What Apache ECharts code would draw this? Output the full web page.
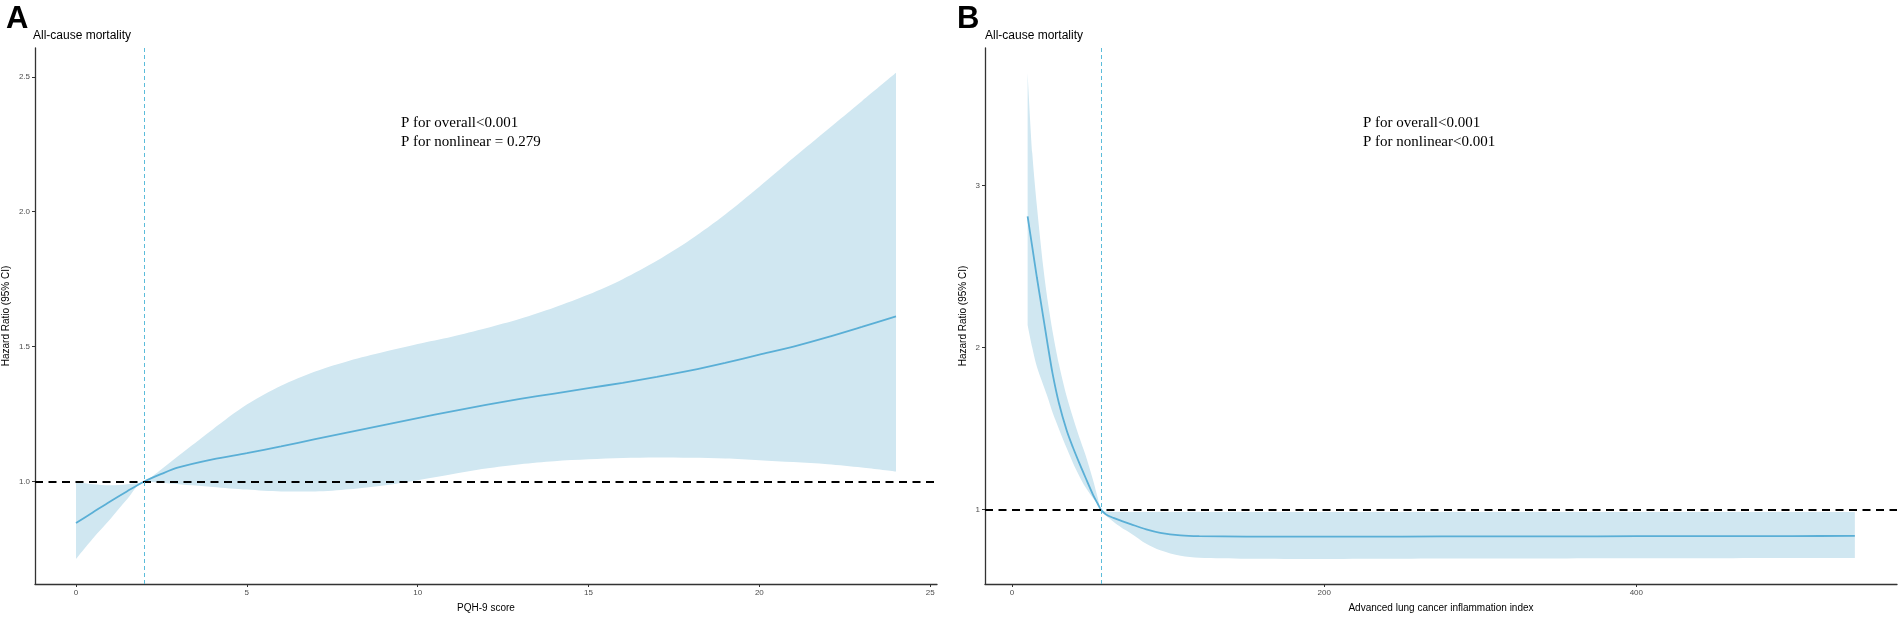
<!DOCTYPE html>
<html>
<head>
<meta charset="utf-8">
<script src="https://cdn.jsdelivr.net/npm/echarts@6/dist/echarts.min.js"></script>
<style>
html,body{margin:0;padding:0;background:#fff;}
#chart{width:1903px;height:618px;}
</style>
</head>
<body>
<div id="chart"></div>
<script>
// ---- Panel A: PQH-9 score ----
const aX     = [0, 0.5, 1, 1.5, 2, 2.5, 3, 4, 5, 6, 7, 8, 9, 10, 11, 12, 13, 14, 15, 16, 17, 18, 19, 20, 21, 22, 23, 24];
const aHR    = [0.846, 0.886, 0.926, 0.964, 1.0, 1.028, 1.052, 1.082, 1.105, 1.13, 1.157, 1.183, 1.209, 1.235, 1.26, 1.284, 1.306, 1.326, 1.346, 1.366, 1.388, 1.412, 1.44, 1.47, 1.50, 1.535, 1.573, 1.612];
const aLower = [0.713, 0.79, 0.86, 0.935, 1.0, 0.995, 0.99, 0.98, 0.97, 0.963, 0.963, 0.971, 0.985, 1.005, 1.027, 1.048, 1.064, 1.075, 1.082, 1.087, 1.089, 1.088, 1.085, 1.079, 1.072, 1.064, 1.052, 1.037];
const aUpper = [0.997, 0.99, 0.986, 0.99, 1.0, 1.045, 1.095, 1.193, 1.285, 1.355, 1.408, 1.448, 1.48, 1.51, 1.537, 1.568, 1.603, 1.645, 1.693, 1.75, 1.818, 1.898, 1.99, 2.093, 2.2, 2.305, 2.41, 2.515];
const aRef = 2;
const aXTicks = [0, 5, 10, 15, 20, 25];
const aYTicks = [1.0, 1.5, 2.0, 2.5];

// ---- Panel B: Advanced lung cancer inflammation index ----
const bX     = [10, 13, 16, 20, 23, 26, 30, 35, 39, 43, 47, 52, 55, 57, 60, 65, 70, 76, 86, 95, 108, 120, 150, 200, 250, 300, 350, 400, 450, 500, 540];
const bHR    = [2.81, 2.62, 2.43, 2.19, 2.01, 1.84, 1.66, 1.49, 1.385, 1.29, 1.20, 1.09, 1.035, 1.0, 0.972, 0.949, 0.931, 0.911, 0.878, 0.857, 0.841, 0.836, 0.834, 0.834, 0.834, 0.835, 0.835, 0.836, 0.836, 0.837, 0.838];
const bLower = [2.14, 2.0, 1.88, 1.77, 1.69, 1.6, 1.5, 1.38, 1.29, 1.21, 1.14, 1.07, 1.03, 1.0, 0.965, 0.925, 0.89, 0.855, 0.79, 0.75, 0.715, 0.703, 0.697, 0.696, 0.697, 0.698, 0.699, 0.70, 0.70, 0.701, 0.702];
const bUpper = [3.70, 3.2, 2.87, 2.5, 2.28, 2.1, 1.9, 1.7, 1.57, 1.45, 1.34, 1.18, 1.07, 1.0, 0.988, 0.986, 0.985, 0.985, 0.985, 0.985, 0.985, 0.985, 0.985, 0.985, 0.985, 0.985, 0.985, 0.985, 0.985, 0.985, 0.985];
const bRef = 57;
const bXTicks = [0, 200, 400];
const bYTicks = [1, 2, 3];

const yTitle = 'Hazard Ratio (95% CI)';
const subTitle = 'All-cause mortality';
const aXTitle = 'PQH-9 score';
const bXTitle = 'Advanced lung cancer inflammation index';
const aNote = ['P for overall<0.001', 'P for nonlinear = 0.279'];
const bNote = ['P for overall<0.001', 'P for nonlinear<0.001'];

const RIBBON = '#D0E7F1';
const LINE = '#5AAFD6';
const VLINE = '#5BBCDA';
const SANS = 'Liberation Sans, Arial, sans-serif';
const SERIF = 'Liberation Serif, Times New Roman, serif';

const pair = (xs, ys) => xs.map((x, i) => [x, ys[i]]);
// band rows put the stacked value (y) in column 0 so ECharts stacks on y
const yFirst = (xs, ys) => xs.map((x, i) => [ys[i], x]);
const diffFirst = (xs, lo, up) => xs.map((x, i) => [+(up[i] - lo[i]).toFixed(4), x]);

function xAxisCfg(gi, min, max, ticks, name) {
  return {
    type: 'value', gridIndex: gi, min: min, max: max,
    name: name, nameLocation: 'middle', nameGap: 19,
    nameTextStyle: {fontFamily: SANS, fontSize: 10, color: '#000'},
    axisLine: {onZero: false, lineStyle: {color: '#333', width: 1.3}},
    axisTick: {show: true, customValues: ticks, length: 3, lineStyle: {color: '#333'}},
    axisLabel: {customValues: ticks, fontFamily: SANS, fontSize: 8, color: '#4D4D4D', margin: 5},
    splitLine: {show: false}
  };
}
function yAxisCfg(gi, min, max, ticks, fmt, gap) {
  return {
    type: 'value', gridIndex: gi, min: min, max: max,
    name: yTitle, nameLocation: 'middle', nameGap: gap,
    nameTextStyle: {fontFamily: SANS, fontSize: 10, color: '#000'},
    axisLine: {show: true, onZero: false, lineStyle: {color: '#333', width: 1.3}},
    axisTick: {show: true, customValues: ticks, length: 3, lineStyle: {color: '#333'}},
    axisLabel: {customValues: ticks, fontFamily: SANS, fontSize: 8, color: '#4D4D4D', margin: 5,
      formatter: fmt},
    splitLine: {show: false}
  };
}
function bandSeries(gi, xs, lo, up, key) {
  return [
    {type: 'line', xAxisIndex: gi, yAxisIndex: gi, stack: key, data: yFirst(xs, lo),
     encode: {x: 1, y: 0},
     symbol: 'none', smooth: 0.3, lineStyle: {opacity: 0}, silent: true, z: 1},
    {type: 'line', xAxisIndex: gi, yAxisIndex: gi, stack: key, data: diffFirst(xs, lo, up),
     encode: {x: 1, y: 0},
     symbol: 'none', smooth: 0.3, lineStyle: {opacity: 0}, areaStyle: {color: RIBBON, opacity: 1}, silent: true, z: 1}
  ];
}
function lineSeries(gi, xs, hr, ref) {
  return {
    type: 'line', xAxisIndex: gi, yAxisIndex: gi, data: pair(xs, hr),
    symbol: 'none', smooth: 0.3, lineStyle: {color: LINE, width: 1.8}, silent: true, z: 3,
    markLine: {
      silent: true, symbol: 'none', label: {show: false}, animation: false,
      data: [
        {yAxis: 1, lineStyle: {color: '#000', width: 2, type: [8, 5.5]}},
        {xAxis: ref, lineStyle: {color: VLINE, width: 1, type: [4, 3]}}
      ]
    }
  };
}

const chart = echarts.init(document.getElementById('chart'), null, {renderer: 'canvas'});
chart.setOption({
  animation: false,
  backgroundColor: '#fff',
  grid: [
    {left: 33, top: 48, width: 904, height: 540},
    {left: 985, top: 48, width: 912, height: 540}
  ],
  xAxis: [
    xAxisCfg(0, -1.2, 25.2, aXTicks, aXTitle),
    xAxisCfg(1, -17.3, 567, bXTicks, bXTitle)
  ],
  yAxis: [
    yAxisCfg(0, 0.62, 2.607, aYTicks, v => v.toFixed(1), 24),
    yAxisCfg(1, 0.541, 3.85, bYTicks, v => String(v), 17)
  ],
  series: [
    ...bandSeries(0, aX, aLower, aUpper, 'a'),
    lineSeries(0, aX, aHR, aRef),
    ...bandSeries(1, bX, bLower, bUpper, 'b'),
    lineSeries(1, bX, bHR, bRef)
  ],
  graphic: [
    {type: 'text', left: 6, top: 4, style: {text: 'A', font: 'bold 31px ' + SANS, fill: '#000'}},
    {type: 'text', left: 957, top: 4, style: {text: 'B', font: 'bold 31px ' + SANS, fill: '#000'}},
    {type: 'text', left: 33, top: 30, style: {text: subTitle, font: '12px ' + SANS, fill: '#000'}},
    {type: 'text', left: 985, top: 30, style: {text: subTitle, font: '12px ' + SANS, fill: '#000'}},
    {type: 'text', left: 401, top: 114, style: {text: aNote.join('\n'), font: '15px ' + SERIF, lineHeight: 19, fill: '#000'}},
    {type: 'text', left: 1363, top: 114, style: {text: bNote.join('\n'), font: '15px ' + SERIF, lineHeight: 19, fill: '#000'}}
  ]
});
</script>
</body>
</html>
